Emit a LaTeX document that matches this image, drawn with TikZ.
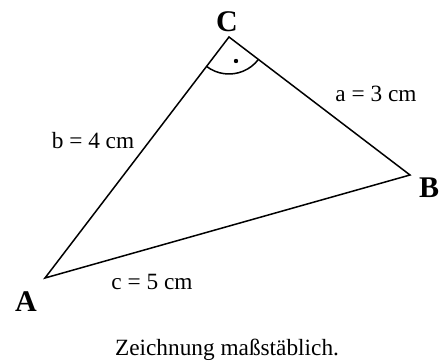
\documentclass[tikz,border=0pt]{standalone}
\usepackage{fontspec}
\setmainfont{Liberation Serif}

\begin{document}
\begin{tikzpicture}[x=1pt, y=-1pt, line width=1.5pt,
    side/.style={font=\fontsize{23.3}{28}\selectfont, anchor=base, inner sep=0pt},
    corner/.style={font=\fontsize{30}{36}\selectfont\bfseries, anchor=base, inner sep=0pt}]
                \useasboundingbox (0, 0) rectangle (447, 363);
                % Corners and sides:
                \coordinate (A) at (45, 278);
                \coordinate (B) at (410, 175);
                \coordinate (C) at (229, 37);
                \draw[line join=miter] (A) -- (B) -- (C) -- cycle;
                % Right angle at C:
                \draw (C) ++(127.4:37) arc[start angle=127.4, end angle=37.3, radius=37];
                \fill (236, 61) circle[radius=2.2pt];
                % Labels:
                \node[corner](LA) at (26, 312){A};
                \node[corner](LB) at (429, 198){B};
                \node[corner](LC) at (227, 31.5){C};
                \node[side](Sa) at (376, 102){a = 3 cm};
                \node[side](Sb) at (93, 149){b = 4 cm};
                \node[side](Sc) at (152, 290){c = 5 cm};
                \node[side](Note) at (227, 355){Zeichnung maßstäblich.};
            \end{tikzpicture}
\end{document}
